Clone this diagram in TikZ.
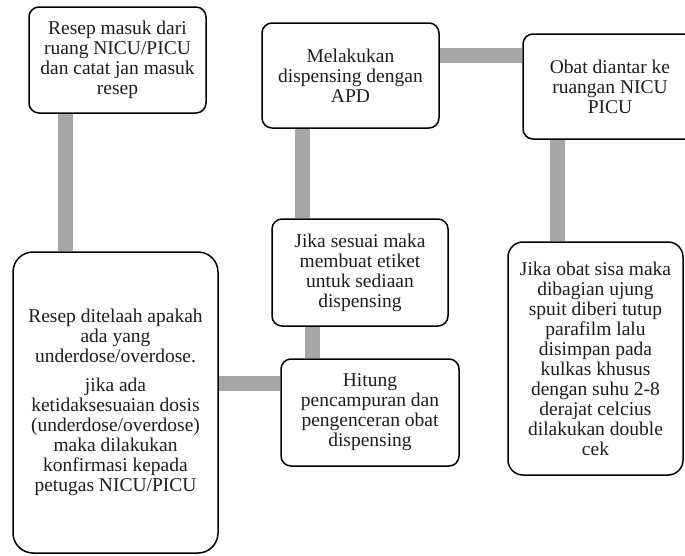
\documentclass[tikz,border=0pt]{standalone}
\usepackage{fontspec}
\setmainfont{Liberation Serif}
\usetikzlibrary{backgrounds}
\definecolor{barg}{RGB}{166,166,166}
\definecolor{txt}{RGB}{30,30,30}
\begin{document}
\begin{tikzpicture}[x=1pt,y=-1pt,
  box/.style={draw=black, line width=1.5pt, fill=white, rounded corners=10pt, align=center,
    inner sep=0pt, text=txt, font=\fontsize{19.5}{20}\selectfont},
  conn/.style={draw=barg, line width=15pt}]
\useasboundingbox (0,0) rectangle (685,555);

\node[box, minimum width=177pt, minimum height=106pt] (b1) at (117.5,60)
  {Resep masuk dari\\ruang NICU/PICU\\dan catat jan masuk\\resep};
\node[box, minimum width=177pt, minimum height=105pt] (b2) at (350.5,75.5)
  {Melakukan\\dispensing dengan\\APD};
\node[box, minimum width=174pt, minimum height=105pt] (b3) at (610,86.5)
  {Obat diantar ke\\ruangan NICU\\PICU};
\node[box, minimum width=176pt, minimum height=107pt] (b4) at (360,272.5)
  {Jika sesuai maka\\membuat etiket\\untuk sediaan\\dispensing};
\node[box, minimum width=178pt, minimum height=107pt] (b5) at (370,412.5)
  {Hitung\\pencampuran dan\\pengenceran obat\\dispensing};
\node[box, rounded corners=20pt, minimum width=205pt, minimum height=301pt] (b6) at (115.5,402.5)
  {Resep ditelaah apakah\\ada yang\\underdose/overdose.\\[9pt]jika ada\\ketidaksesuaian dosis\\(underdose/overdose)\\maka dilakukan\\konfirmasi kepada\\petugas NICU/PICU};
\node[box, rounded corners=15pt, minimum width=175pt, minimum height=233pt] (b7) at (595.5,358.5)
  {Jika obat sisa maka\\dibagian ujung\\spuit diberi tutup\\parafilm lalu\\disimpan pada\\kulkas khusus\\dengan suhu 2-8\\derajat celcius\\dilakukan double\\cek};

\coordinate (c1) at (65,0);
\coordinate (c2) at (0,383);
\coordinate (c3) at (312,0);
\coordinate (c4) at (302,0);
\coordinate (c5) at (0,55);
\coordinate (c6) at (557,0);

\begin{scope}[on background layer]
\draw[conn] (b1.south -| c1) -- (b6.north -| c1);
\draw[conn] (b6.east |- c2) -- (b5.west |- c2);
\draw[conn] (b5.north -| c3) -- (b4.south -| c3);
\draw[conn] (b4.north -| c4) -- (b2.south -| c4);
\draw[conn] (b2.east |- c5) -- (b3.west |- c5);
\draw[conn] (b3.south -| c6) -- (b7.north -| c6);
\end{scope}
\end{tikzpicture}
\end{document}
